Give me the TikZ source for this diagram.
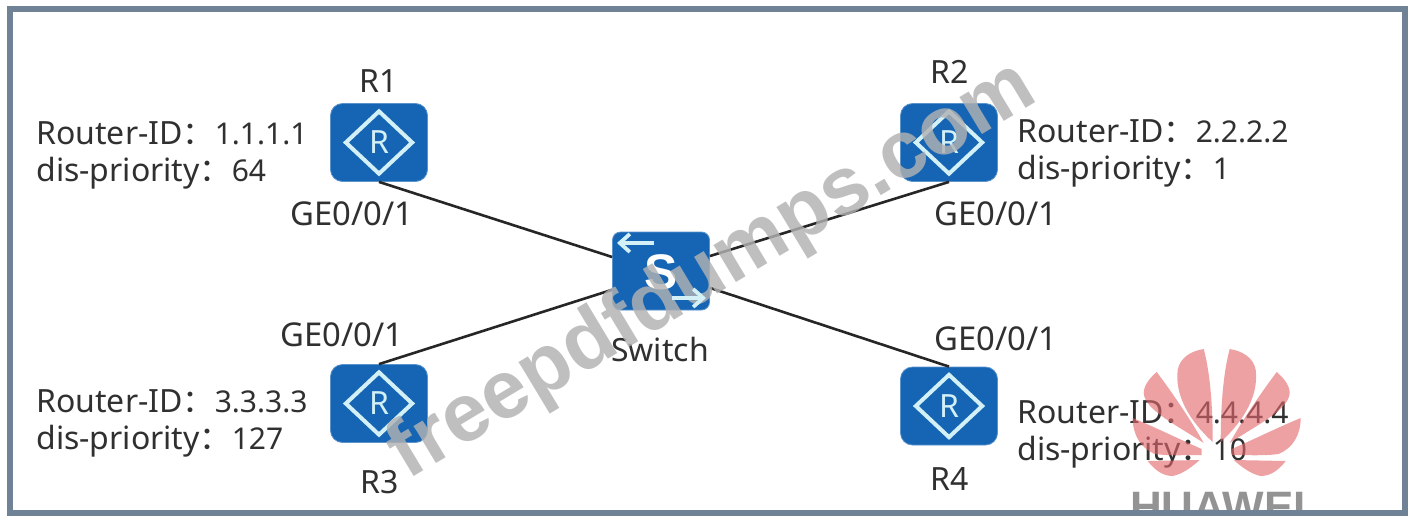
\documentclass[tikz,border=0pt]{standalone}
\usepackage{fontspec}
\setmainfont{Noto Sans}
\newfontfamily\cjkfont{Noto Sans CJK SC}
\newfontfamily\markfont{Liberation Sans}
\usetikzlibrary{shapes.geometric,arrows.meta}
\definecolor{framecol}{HTML}{708296}
\definecolor{iconblue}{HTML}{1565B4}
\definecolor{iconline}{HTML}{D2F0F6}
\definecolor{inkcol}{HTML}{303030}
\definecolor{petal}{HTML}{E4686C}
\newcommand{\fw}{{\cjkfont ：}}
\newcommand{\vl}[1]{{\fontsize{15}{18.5}\selectfont #1}}
\tikzset{
  routerbox/.style={rectangle,rounded corners=6pt,fill=iconblue,draw=iconblue!70!white,line width=.4pt,minimum width=48.5pt,minimum height=39pt,inner sep=0pt},
  routermark/.style={diamond,draw=iconline,line width=2pt,minimum width=34pt,minimum height=32pt,inner sep=0pt,text=iconline,font=\fontsize{16}{16}\selectfont},
  infotext/.style={anchor=west,align=left,text=inkcol,inner sep=0pt,font=\fontsize{16}{18.5}\selectfont},
  lbl/.style={text=inkcol,inner sep=0pt,font=\fontsize{16}{18}\selectfont},
  portlbl/.style={lbl,font=\fontsize{16.4}{18}\selectfont},
  link/.style={line width=1.3pt,draw=black!85},
  swarrow/.style={draw=iconline,line width=1.9pt,-{Straight Barb[length=5pt,width=9pt,line width=1.9pt]}},
  petalfill/.style={fill=petal,fill opacity=.62,draw=none},
  wmark/.style={text=gray!60,text opacity=.82,inner sep=0pt,font=\markfont\bfseries\fontsize{41}{41}\selectfont}
}
\begin{document}
\begin{tikzpicture}[x=0.5pt,y=-0.5pt]
\useasboundingbox (0,0) rectangle (1408,515);
\fill[white] (0,0) rectangle (1408,515);
% routers and switch
\node[routerbox] (r1) at (379,142.5) {};
\node[routerbox] (r2) at (949,142.5) {};
\node[routerbox] (r3) at (379,403.5) {};
\node[routerbox] (r4) at (949,406) {};
\node[routerbox,rounded corners=4pt] (sw) at (661,271) {};
\node[routermark] (m1) at (r1) {R};
\node[routermark] (m2) at (r2) {R};
\node[routermark] (m3) at (r3) {R};
\node[routermark] (m4) at (r4) {R};
\node[text=white,inner sep=0pt,font=\markfont\bfseries\fontsize{25}{25}\selectfont] (swS) at (661,272) {S};
\coordinate (alS) at (654,243);
\coordinate (alE) at (617,243);
\coordinate (arS) at (672,298);
\coordinate (arE) at (706,298);
% links
\draw[link] (r1.south) -- (sw.164);
\draw[link] (r2.south) -- (sw.17);
\draw[link] (r3.north) -- (sw.201);
\draw[link] (r4.north) -- (sw.341);
% labels
\node[lbl] (t1) at (379,81) {R1};
\node[lbl] (t2) at (950,72) {R2};
\node[lbl] (t3) at (380,482) {R3};
\node[lbl] (t4) at (950,479) {R4};
\node[lbl] (tsw) at (660,349) {Switch};
\node[portlbl] (g1) at (352,214) {GE0/0/1};
\node[portlbl] (g2) at (996,214) {GE0/0/1};
\node[portlbl] (g3) at (342,335) {GE0/0/1};
\node[portlbl] (g4) at (996,339) {GE0/0/1};
\node[infotext] (i1) at (36,155) {Router-ID\fw \vl{1.1.1.1}\\dis-priority\fw \vl{64}};
\node[infotext] (i2) at (1017,153) {Router-ID\fw \vl{2.2.2.2}\\dis-priority\fw \vl{1}};
\node[infotext] (i3) at (36,423) {Router-ID\fw \vl{3.3.3.3}\\dis-priority\fw \vl{127}};
\node[infotext] (i4) at (1017,434.5) {Router-ID\fw \vl{4.4.4.4}\\dis-priority\fw \vl{10}};
% Huawei logo
\foreach \s in {1,-1}{
\begin{scope}[shift={(1216.7,0)},xscale=\s]
\path[petalfill] (-4,442) .. controls (-28,420) and (-42,395) .. (-39,370) .. controls (-37,358) and (-26,351) .. (-13,349) .. controls (-6,375) and (-4,410) .. (-4,442) -- cycle;
\path[petalfill] (-13,443) .. controls (-40,425) and (-72,410) .. (-73,393) .. controls (-73,385) and (-66,377) .. (-60,372) .. controls (-45,392) and (-27,418) .. (-13,443) -- cycle;
\path[petalfill] (-15,449) .. controls (-40,438) and (-60,428) .. (-84,418) .. controls (-84,435) and (-76,448) .. (-62,454) .. controls (-47,456) and (-30,455) .. (-15,455) -- cycle;
\path[petalfill] (-17,460) -- (-69,461) .. controls (-62,470) and (-54,476) .. (-44,476) .. controls (-34,474) and (-25,467) .. (-17,460) -- cycle;
\end{scope}}
\node[text=gray!85,inner sep=0pt,anchor=base,font=\markfont\bfseries\fontsize{22}{22}\selectfont] (hw) at (1218,522) {HUAWEI};
% watermark
\node[wmark,rotate=31] (wm) at (713,272) {freepdfdumps.com};
\draw[swarrow] (alS) -- (alE);
\draw[swarrow] (arS) -- (arE);
% frame
\draw[framecol,line width=3pt] (10,9) rectangle (1404.5,513);
\end{tikzpicture}
\end{document}
